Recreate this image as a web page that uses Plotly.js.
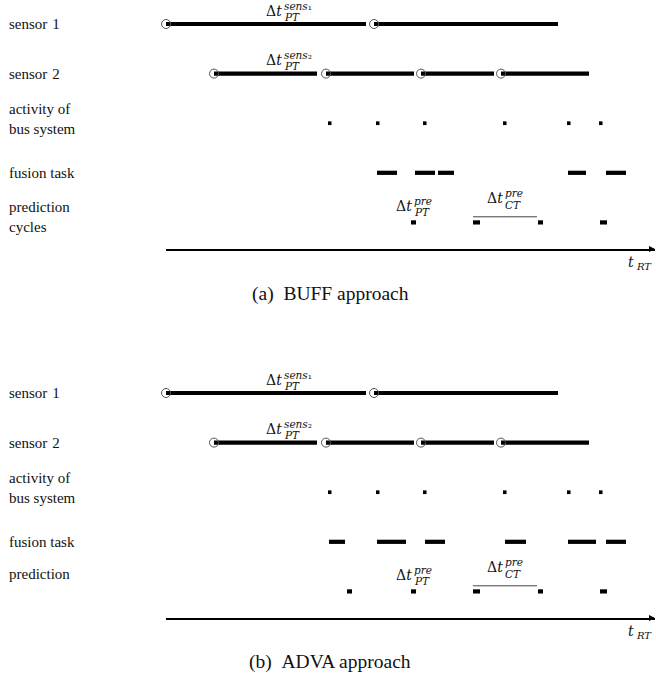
<!DOCTYPE html>
<html>
<head>
<meta charset="utf-8">
<script src="https://cdn.plot.ly/plotly-3.0.1.min.js"></script>
<style>html,body{margin:0;padding:0;background:#fff;}#chart{width:656px;height:674px;}</style>
</head>
<body>
<div id="chart"></div>
<script>
// ---- data (time units along t_RT) ----
const rowIndex = { sensor1: 0, sensor2: 1, bus: 2, fusion: 3, pred: 4 };
const rowLabelsA = ['sensor\u20041', 'sensor\u20042', 'activity of<br>bus system', 'fusion task', 'prediction<br>cycles'];
const rowLabelsB = ['sensor\u20041', 'sensor\u20042', 'activity of<br>bus system', 'fusion task', 'prediction'];
const captions = ['(a)\u2002BUFF approach', '(b)\u2002ADVA approach'];

const sensor1Start = [1, 209];
const sensor1End = [201, 393];
const sensor2Start = [49, 161, 256, 336];
const sensor2End = [152, 249, 329, 424];
const busTimes = [163, 211, 258, 338, 402, 434];
const busDuration = 3.5;

const fusionStartA = [212, 250, 273, 403, 441];
const fusionEndA = [232, 270, 289, 421, 461];
const fusionStartB = [164, 212, 260, 340, 403, 441];
const fusionEndB = [180, 241, 280, 361, 431, 461];

const predStartA = [246, 308, 373, 435];
const predEndA = [251, 315, 378, 442];
const predStartB = [182, 246, 308, 373, 435];
const predEndB = [187, 251, 315, 378, 442];

const cycleBracket = [308, 372];   // Δt_CT^pre span

// ---- styling / layout constants ----
const SERIF = 'Liberation Serif';
const MATH = 'DejaVu Serif';
const YR = [4.536, -0.484];
const barW = 0.085;

function segBars(starts, ends, row, xa, ya) {
  return {
    type: 'bar', orientation: 'h',
    y: starts.map(() => row), base: starts,
    x: starts.map((s, i) => ends[i] - s),
    width: barW, marker: { color: '#000', line: { width: 0 } },
    xaxis: xa, yaxis: ya, hoverinfo: 'skip'
  };
}
function busBars(times, xa, ya) {
  return {
    type: 'bar', orientation: 'h',
    y: times.map(() => rowIndex.bus), base: times,
    x: times.map(() => busDuration),
    width: 0.075, marker: { color: '#000', line: { width: 0 } },
    xaxis: xa, yaxis: ya, hoverinfo: 'skip'
  };
}
function circles(starts, row, xa, ya) {
  return {
    type: 'scatter', mode: 'markers', x: starts, y: starts.map(() => row),
    marker: { symbol: 'circle-open', size: 9, color: '#555', line: { width: 1, color: '#555' } },
    cliponaxis: false, xaxis: xa, yaxis: ya, hoverinfo: 'skip'
  };
}
function bracket(span, xa, ya) {
  return {
    type: 'scatter', mode: 'lines', x: span, y: span.map(() => rowIndex.pred - 0.113),
    line: { color: '#444', width: 1 }, xaxis: xa, yaxis: ya, hoverinfo: 'skip'
  };
}

function panel(xa, ya, fStart, fEnd, pStart, pEnd) {
  return [
    segBars(sensor1Start, sensor1End, rowIndex.sensor1, xa, ya),
    segBars(sensor2Start, sensor2End, rowIndex.sensor2, xa, ya),
    busBars(busTimes, xa, ya),
    segBars(fStart, fEnd, rowIndex.fusion, xa, ya),
    segBars(pStart, pEnd, rowIndex.pred, xa, ya),
    circles(sensor1Start, rowIndex.sensor1, xa, ya),
    circles(sensor2Start, rowIndex.sensor2, xa, ya),
    bracket(cycleBracket, xa, ya)
  ];
}

const data = [].concat(
  panel('x', 'y', fusionStartA, fusionEndA, predStartA, predEndA),
  panel('x2', 'y2', fusionStartB, fusionEndB, predStartB, predEndB)
);

function mathLabel(xr, yr, x, row, main, sup, sub, shMain, shSup, shSub) {
  const f = { family: MATH, size: 14, color: '#111' };
  const fs = { family: MATH, size: 10.5, color: '#111' };
  return [
    { xref: xr, yref: yr, x: x, y: row, text: main, showarrow: false, xanchor: 'right', yanchor: 'middle', yshift: shMain, xshift: 0, borderpad: 0, font: f },
    { xref: xr, yref: yr, x: x, y: row, text: sup, showarrow: false, xanchor: 'left', yanchor: 'middle', yshift: shSup, xshift: 0, borderpad: 0, font: fs },
    { xref: xr, yref: yr, x: x, y: row, text: sub, showarrow: false, xanchor: 'left', yanchor: 'middle', yshift: shSub, xshift: 0, borderpad: 0, font: fs }
  ];
}

function panelAnnotations(xr, yr, labels, labelShifts, capY, caption) {
  const anns = [];
  labels.forEach((lab, i) => {
    anns.push({ xref: 'paper', yref: yr, x: 7 / 656, y: i, text: lab, showarrow: false,
      xanchor: 'left', yanchor: 'middle', align: 'left', yshift: labelShifts[i],
      font: { family: SERIF, size: 15, color: '#111' } });
  });
  const sensMid = (sensor1Start[0] + sensor1End[0]) / 2;
  anns.push(...mathLabel(xr, yr, sensMid + 17, rowIndex.sensor1, '\u0394<i>t</i>', '<i>sens</i>\u2081', '<i>PT</i>', 13, 18, 7));
  anns.push(...mathLabel(xr, yr, sensMid + 17, rowIndex.sensor2, '\u0394<i>t</i>', '<i>sens</i>\u2082', '<i>PT</i>', 14, 19, 8));
  anns.push(...mathLabel(xr, yr, predStartA[0] + 2, rowIndex.pred, '\u0394<i>t</i>', '<i>pre</i>', '<i>PT</i>', 16, 21, 10));
  anns.push(...mathLabel(xr, yr, cycleBracket[0] + 31, rowIndex.pred, '\u0394<i>t</i>', '<i>pre</i>', '<i>CT</i>', 24, 29, 17));
  // time axis label and arrow head
  anns.push({ xref: xr, yref: yr, x: 470, y: YR[0], text: '<i>t</i>', showarrow: false, xanchor: 'right', yanchor: 'middle', yshift: -13, borderpad: 0,
    font: { family: MATH, size: 14, color: '#111' } });
  anns.push({ xref: xr, yref: yr, x: 470, y: YR[0], text: '<i>RT</i>', showarrow: false, xanchor: 'left', yanchor: 'middle', yshift: -17, xshift: 0, borderpad: 0,
    font: { family: MATH, size: 10, color: '#111' } });
  anns.push({ xref: xr, yref: yr, x: 490, y: YR[0], axref: xr, ayref: yr, ax: 484, ay: YR[0], text: '', showarrow: true,
    arrowhead: 2, arrowsize: 0.8, arrowwidth: 1.5, arrowcolor: '#000', standoff: 0 });
  anns.push({ xref: 'paper', yref: 'paper', x: 330 / 656, y: capY, text: caption, showarrow: false,
    xanchor: 'center', yanchor: 'middle', font: { family: SERIF, size: 19.5, color: '#111' } });
  return anns;
}

const xBase = { domain: [166 / 656, 655 / 656], range: [1, 490], showline: true, linecolor: '#000', linewidth: 1.5,
  showticklabels: false, ticks: '', showgrid: false, zeroline: false, fixedrange: true };
const yBase = { range: YR, visible: false, showgrid: false, zeroline: false, fixedrange: true };

const layout = {
  width: 656, height: 674, margin: { l: 0, r: 0, t: 0, b: 0 },
  paper_bgcolor: '#fff', plot_bgcolor: 'rgba(0,0,0,0)', showlegend: false, barmode: 'overlay',
  xaxis: Object.assign({}, xBase, { anchor: 'y' }),
  xaxis2: Object.assign({}, xBase, { anchor: 'y2' }),
  yaxis: Object.assign({}, yBase, { domain: [1 - 249 / 674, 1] }),
  yaxis2: Object.assign({}, yBase, { domain: [1 - 618 / 674, 1 - 369 / 674] }),
  annotations: [].concat(
    panelAnnotations('x', 'y', rowLabelsA, [0, 0, 4, 0, 5], 1 - 294 / 674, captions[0]),
    panelAnnotations('x2', 'y2', rowLabelsB, [0, 0, 4, 0, 17], 1 - 662 / 674, captions[1])
  )
};

Plotly.newPlot('chart', data, layout, { staticPlot: true, displayModeBar: false });
</script>
</body>
</html>
